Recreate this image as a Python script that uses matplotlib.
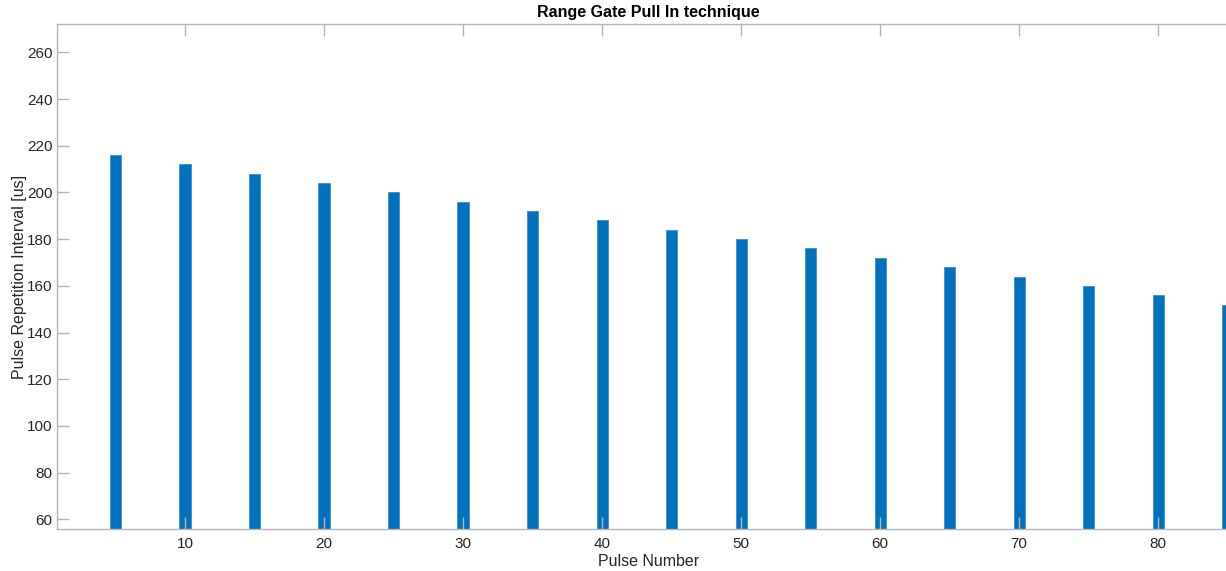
import matplotlib as mpl
mpl.use('Agg')

from matplotlib import pyplot as plt
import numpy as np

# 脈衝編號與脈衝重複間隔 (us)
pulse_number = np.arange(5, 90, 5)
pri_us = [216, 212, 208, 204, 200, 196, 192, 188, 184, 180,
          176, 172, 168, 164, 160, 156, 152]
x_ticks = [10, 20, 30, 40, 50, 60, 70, 80]
y_ticks = [60, 80, 100, 120, 140, 160, 180, 200, 220, 240, 260]

plt.rcParams['font.family'] = ['Liberation Sans', 'DejaVu Sans']

fig = plt.figure(figsize=(12.26, 5.71), dpi=100)
ax = fig.add_axes([0.0462, 0.0741, 0.9652, 0.8833])

ax.bar(pulse_number, pri_us, width=0.8, color='#0072BD', edgecolor='#3d8fd0',
       linewidth=0.6)

ax.set_xlim(0.77, 85.88)
ax.set_ylim(56, 272)
ax.set_xticks(x_ticks)
ax.set_yticks(y_ticks)

# MATLAB 風格的框線與刻度
for side in ['left', 'right', 'top', 'bottom']:
    ax.spines[side].set_color('#b5b5b5')
    ax.spines[side].set_linewidth(1.0)
ax.tick_params(axis='both', direction='in', length=8.5, width=1.0,
               color='#b5b5b5', labelcolor='#262626', labelsize=11,
               top=True, right=True)
ax.tick_params(axis='x', pad=6)
ax.tick_params(axis='y', pad=3)

ax.set_xlabel('Pulse Number', fontsize=11.5, color='#262626', labelpad=2)
ax.set_ylabel('Pulse Repetition Interval [us]', fontsize=11.5, color='#262626')
ax.yaxis.set_label_coords(-0.025, 0.5)
ax.set_title('Range Gate Pull In technique', fontsize=11.5, fontweight='bold',
             color='black', pad=5)

plt.savefig('out.png', dpi=100)
plt.close()
